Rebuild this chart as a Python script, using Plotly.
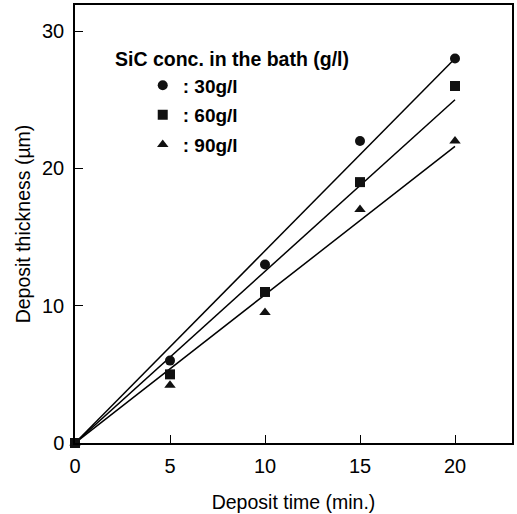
import plotly.graph_objects as go

time_min = [0, 5, 10, 15, 20]
thick_30 = [0, 6, 13, 22, 28]
thick_60 = [0, 5, 11, 19, 26]
thick_90 = [0, 4.2, 9.5, 17, 22]

fit_x = [0, 20]
fit_30 = [0, 28]
fit_60 = [0, 25.0]
fit_90 = [0, 21.6]

labels = [": 30g/l", ": 60g/l", ": 90g/l"]
symbols = ["circle", "square", "triangle-up"]

FONT = "Arial, Liberation Sans, sans-serif"
fig = go.Figure()

for fy in (fit_30, fit_60, fit_90):
    fig.add_trace(go.Scatter(x=fit_x, y=fy, mode="lines",
                             line=dict(color="black", width=1.5),
                             showlegend=False, hoverinfo="skip"))

for i, (ys, name, sym) in enumerate(zip((thick_30, thick_60, thick_90), labels, symbols)):
    fig.add_trace(go.Scatter(x=time_min, y=ys, mode="markers", name=name,
                             legendgroup=f"g{i}",
                             marker=dict(symbol=sym, size=10, color="#111111",
                                         line=dict(width=0)),
                             cliponaxis=False))

fig.update_layout(
    width=517, height=514,
    margin=dict(l=75, r=3, t=5, b=71),
    paper_bgcolor="white", plot_bgcolor="white",
    font=dict(family=FONT, color="black"),
    showlegend=True,
    legend=dict(x=0.155, y=0.86, xanchor="left", yanchor="top",
                bgcolor="rgba(0,0,0,0)", tracegroupgap=2,
                font=dict(size=19, family=FONT, weight="bold"),
                itemwidth=30),
    annotations=[dict(text="<b>SiC conc. in the bath (g/l)</b>", xref="paper", yref="paper",
                      x=(113 - 75) / 439, y=(443 - 59) / 438, xanchor="left", yanchor="middle",
                      showarrow=False, font=dict(size=19.5, family=FONT))],
)

fig.update_xaxes(range=[0, 23], tickvals=[0, 5, 10, 15, 20], ticks="inside", ticklen=8,
                 tickwidth=1.2, tickcolor="black", showgrid=False, zeroline=False,
                 showline=True, linecolor="black", linewidth=1.5, mirror=True,
                 ticklabelstandoff=4,
                 tickfont=dict(size=20), title=dict(text="Deposit time (min.)", font=dict(size=19.5), standoff=20))
fig.update_yaxes(range=[0, 31.9], tickvals=[0, 10, 20, 30], ticks="inside", ticklen=8,
                 tickwidth=1.2, tickcolor="black", showgrid=False, zeroline=False,
                 showline=True, linecolor="black", linewidth=1.5, mirror=True,
                 ticklabelstandoff=5,
                 tickfont=dict(size=20), title=dict(text="Deposit thickness (µm)", font=dict(size=19.5), standoff=6))

fig.write_html("out.html")
